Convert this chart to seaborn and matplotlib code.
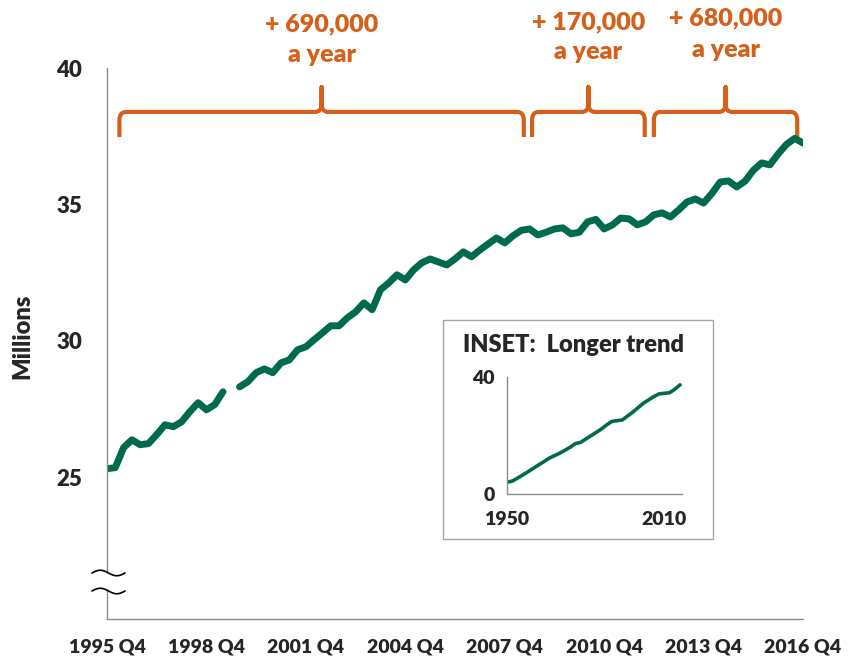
import numpy as np
import pandas as pd
import matplotlib.pyplot as plt
import seaborn as sns
from matplotlib.path import Path
from matplotlib.patches import PathPatch, Rectangle

GREEN = '#006A4E'
ORANGE = '#D5601B'
GREY = '#8C8C8C'

# Quarterly series, 1995 Q4 - 2016 Q4 (millions), one gap in 1999
quarters = pd.period_range('1995Q4', '2016Q4', freq='Q')
millions = [
    25.31, 25.35, 26.08, 26.37, 26.19, 26.23, 26.56, 26.92, 26.85, 27.03,
    27.40, 27.73, 27.47, 27.66, 28.13, np.nan, 28.31, 28.50, 28.83, 28.97,
    28.83, 29.19, 29.30, 29.67, 29.78, 30.04, 30.29, 30.55, 30.55, 30.84,
    31.06, 31.39, 31.14, 31.87, 32.12, 32.42, 32.23, 32.60, 32.86, 33.00,
    32.89, 32.78, 33.00, 33.26, 33.08, 33.33, 33.55, 33.77, 33.59, 33.85,
    34.05, 34.10, 33.88, 33.98, 34.10, 34.14, 33.92, 33.98, 34.36, 34.45,
    34.10, 34.25, 34.50, 34.47, 34.25, 34.36, 34.62, 34.69, 34.54, 34.80,
    35.09, 35.20, 35.05, 35.40, 35.82, 35.86, 35.64, 35.85, 36.25, 36.52,
    36.45, 36.85, 37.20, 37.42, 37.25,
]
tick_years = [1995, 1998, 2001, 2004, 2007, 2010, 2013, 2016]

# Inset: longer trend
inset_years = [1950, 1952, 1954, 1958, 1962, 1964, 1966, 1970, 1974, 1976,
               1978, 1982, 1986, 1988, 1990, 1994, 1998, 2002, 2006, 2008,
               2010, 2012, 2014, 2016]
inset_millions = [4.0, 4.4, 5.4, 7.6, 9.9, 11.0, 12.2, 13.9, 15.9, 17.2,
                  17.6, 19.9, 22.2, 23.6, 24.8, 25.3, 28.0, 31.0, 33.3, 34.2,
                  34.4, 34.6, 35.8, 37.3]

# Growth periods (quarter positions) and their labels
periods = [(1.5, 50.3), (51.3, 64.9), (66.0, 83.3)]
period_labels = ['+ 690,000', '+ 170,000', '+ 680,000']
label_levels = [(41.61, 40.48), (41.68, 40.59), (41.83, 40.66)]

sns.set_style('white')
plt.rcParams['font.family'] = ['Lato', 'DejaVu Sans']
W = 'heavy'


def brace(ax, x0, x1, y_tip=37.47, y_mid=38.39, y_peak=39.30, rx=0.8, ry=0.3):
    xc = (x0 + x1) / 2
    verts = [
        (x0, y_tip), (x0, y_mid - ry), (x0, y_mid), (x0 + rx, y_mid),
        (xc - rx, y_mid), (xc, y_mid), (xc, y_mid + ry), (xc, y_peak),
        (xc, y_mid + ry), (xc, y_mid), (xc + rx, y_mid),
        (x1 - rx, y_mid), (x1, y_mid), (x1, y_mid - ry), (x1, y_tip),
    ]
    codes = [Path.MOVETO, Path.LINETO, Path.CURVE3, Path.CURVE3,
             Path.LINETO, Path.CURVE3, Path.CURVE3, Path.LINETO,
             Path.LINETO, Path.CURVE3, Path.CURVE3,
             Path.LINETO, Path.CURVE3, Path.CURVE3, Path.LINETO]
    ax.add_patch(PathPatch(Path(verts, codes), facecolor='none', edgecolor=ORANGE,
                           lw=3, capstyle='butt', joinstyle='round', clip_on=False))


fig = plt.figure(figsize=(8.54, 6.56), dpi=100)
ax = fig.add_axes([0.1253, 0.0564, 0.8150, 0.8399])

df = pd.DataFrame({'pos': np.arange(len(quarters)), 'millions': millions})
df['segment'] = df['millions'].isna().cumsum()
df = df.dropna()
sns.lineplot(data=df, x='pos', y='millions', units='segment', estimator=None,
             color=GREEN, lw=5, ax=ax, legend=False)

ax.set_xlim(0, len(quarters) - 1)
ax.set_ylim(19.8, 40)
tick_pos = [(y - 1995) * 4 for y in tick_years]
ax.set_xticks(tick_pos)
ax.set_xticklabels([f'{y} Q4' for y in tick_years], fontsize=14, fontweight=W)
ax.set_yticks([25, 30, 35, 40])
ax.set_yticklabels(['25', '30', '35', '40'], fontsize=16, fontweight=W)
ax.tick_params(axis='x', length=6, width=1, color=GREY, pad=8)
ax.tick_params(axis='y', length=0, pad=18)
ax.set_xlabel('')
ax.set_ylabel('')
sns.despine(ax=ax)
for side in ['left', 'bottom']:
    ax.spines[side].set_color(GREY)
    ax.spines[side].set_linewidth(1)

# axis break mark
ax.add_patch(Rectangle((-0.01, 0.053), 0.02, 0.029, transform=ax.transAxes,
                       facecolor='white', edgecolor='none', clip_on=False, zorder=5))
t = np.linspace(0, 1, 50)
for y0 in [0.0835, 0.0508]:
    ax.plot(-0.0216 + 0.0475 * t, y0 + 0.005 * np.sin(2 * np.pi * t),
            transform=ax.transAxes, color='black', lw=1.2, clip_on=False, zorder=6)

for (x0, x1), lab, (y1, y2) in zip(periods, period_labels, label_levels):
    brace(ax, x0, x1)
    xc = (x0 + x1) / 2
    ax.text(xc, y1, lab, ha='center', va='center', color=ORANGE, fontsize=18,
            fontweight=W, clip_on=False)
    ax.text(xc, y2, 'a year', ha='center', va='center', color=ORANGE, fontsize=18,
            fontweight=W, clip_on=False)

fig.text(22 / 854, 1 - 336 / 656, 'Millions', rotation=90, ha='center', va='center',
         fontsize=17, fontweight=W)

# inset
fig.add_artist(Rectangle((0.5187, 0.1784), 0.3162, 0.3338, transform=fig.transFigure,
                         fill=False, edgecolor='#A6A6A6', lw=1))
axin = fig.add_axes([0.5937, 0.2470, 0.2049, 0.1784])
axin.patch.set_alpha(0)
sns.lineplot(x=inset_years, y=inset_millions, color=GREEN, lw=2.6, ax=axin)
axin.set_xlim(1950, 2016.75)
axin.set_ylim(0, 40)
axin.set_xticks(list(range(1950, 2020, 10)))
axin.set_xticklabels(['1950', '', '', '', '', '', '2010'], fontsize=14, fontweight=W)
axin.set_yticks([0, 40])
axin.set_yticklabels(['0', '40'], fontsize=14, fontweight=W)
axin.tick_params(axis='x', length=6, width=1, color=GREY, pad=6)
axin.tick_params(axis='y', length=5, width=1, color=GREY, pad=4)
sns.despine(ax=axin)
for side in ['left', 'bottom']:
    axin.spines[side].set_color(GREY)
    axin.spines[side].set_linewidth(1)
fig.text(574 / 854, 1 - 345 / 656, 'INSET:  Longer trend', ha='center', va='center',
         fontsize=17, fontweight=W)

fig.savefig('out.png', dpi=100)
